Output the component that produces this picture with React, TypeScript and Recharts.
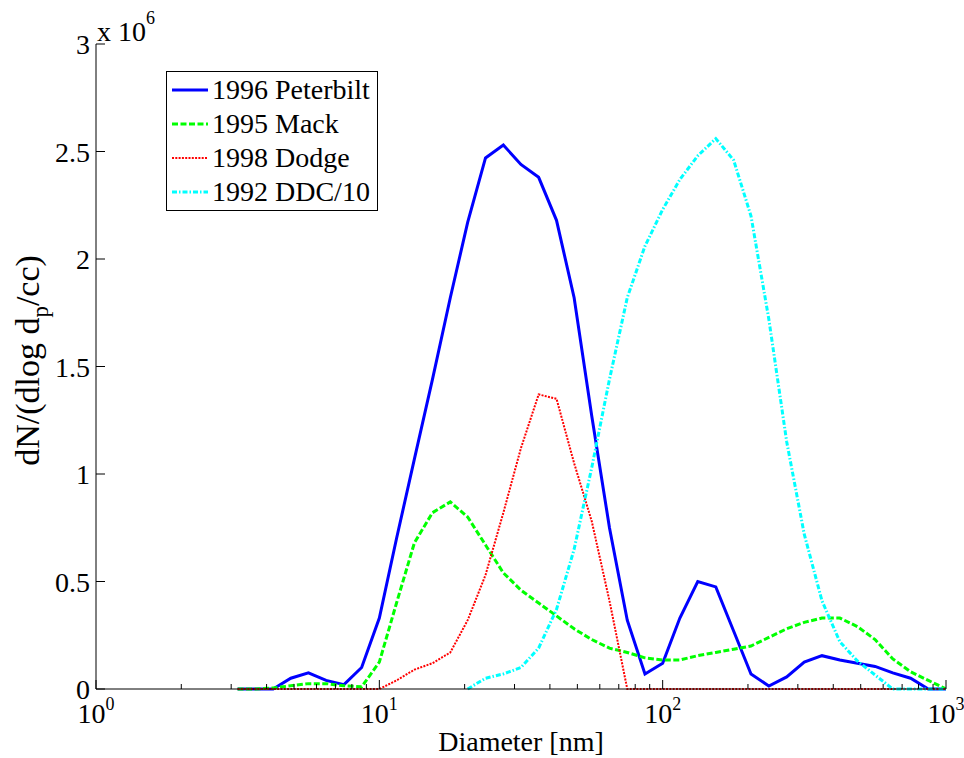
import React from 'react'
import { LineChart, Line, XAxis, YAxis, Legend } from 'recharts'

// particle diameter bins [nm]
const diameters = [
  3.16, 3.65, 4.22, 4.87, 5.62, 6.49, 7.5, 8.66, 10.0, 11.5, 13.3, 15.4, 17.8, 20.5,
  23.7, 27.4, 31.6, 36.5, 42.2, 48.7, 56.2, 64.9, 75.0, 86.6, 100, 115, 133, 154,
  178, 205, 237, 274, 316, 365, 422, 487, 562, 649, 750, 866, 1000,
]

// dN/dlogDp in units of 1e6 per cc
const peterbilt = [
  0, 0, 0, 0.05, 0.075, 0.04, 0.02, 0.1, 0.33, 0.7, 1.07, 1.44, 1.82, 2.17, 2.47,
  2.53, 2.44, 2.38, 2.18, 1.82, 1.27, 0.75, 0.32, 0.07, 0.12, 0.33, 0.5, 0.475,
  0.27, 0.07, 0.014, 0.056, 0.125, 0.155, 0.135, 0.12, 0.105, 0.075, 0.05, 0, 0,
]
const mack = [
  0, 0, 0.005, 0.015, 0.025, 0.025, 0.015, 0.01, 0.125, 0.4, 0.68, 0.82, 0.87, 0.8,
  0.67, 0.54, 0.46, 0.4, 0.34, 0.28, 0.23, 0.19, 0.17, 0.145, 0.135, 0.135, 0.155,
  0.17, 0.185, 0.2, 0.24, 0.28, 0.31, 0.33, 0.33, 0.29, 0.23, 0.14, 0.08, 0.04, 0,
]
const dodge = [
  0, 0, 0, 0, 0, 0, 0, 0, 0, 0.04, 0.09, 0.12, 0.17, 0.32, 0.53, 0.82, 1.12, 1.37,
  1.35, 1.05, 0.78, 0.41, 0, 0, 0, 0, 0, 0, 0, 0, 0, 0, 0, 0, 0, 0, 0, 0, 0, 0, 0,
]
const ddc = [
  null, null, null, null, null, null, null, null, null, null, null, null, null, 0,
  0.05, 0.07, 0.1, 0.19, 0.37, 0.65, 1.03, 1.44, 1.82, 2.06, 2.23, 2.37, 2.48, 2.56,
  2.46, 2.2, 1.72, 1.15, 0.72, 0.41, 0.22, 0.13, 0.065, 0, 0, 0, 0,
]

const xTicks = [
  1, 2, 3, 4, 5, 6, 7, 8, 9, 10, 20, 30, 40, 50, 60, 70, 80, 90, 100, 200, 300, 400,
  500, 600, 700, 800, 900, 1000,
]
const yTicks = [0, 0.5, 1, 1.5, 2, 2.5, 3]

const series = [
  { key: 'peterbilt', name: '1996 Peterbilt', color: '#0000ff', width: 3, dash: undefined },
  { key: 'mack', name: '1995 Mack', color: '#00ff00', width: 3, dash: '6 2.5' },
  { key: 'dodge', name: '1998 Dodge', color: '#ff0000', width: 2, dash: '2 1.3' },
  { key: 'ddc', name: '1992 DDC/10', color: '#00ffff', width: 3, dash: '5 2 1.5 2' },
]

const data = diameters.map((d, i) => ({
  d,
  peterbilt: peterbilt[i],
  mack: mack[i],
  dodge: dodge[i],
  ddc: ddc[i],
}))

const FONT = "'Liberation Serif', 'Times New Roman', serif"
const FS = 28

const XTick = ({ x, y, payload }: any) => {
  const v = payload.value
  const lg = Math.log10(v)
  const exp = Math.round(lg)
  const major = Math.abs(lg - exp) < 1e-6
  return (
    <g>
      <line x1={x} y1={y} x2={x} y2={y - (major ? 9 : 5)} stroke="#000" />
      {major && (
        <text x={x} y={y + 34} textAnchor="middle" fontSize={FS} fontFamily={FONT} fill="#000">
          10
          <tspan dy={-13} fontSize={18}>{exp}</tspan>
        </text>
      )}
    </g>
  )
}

const YTick = ({ x, y, payload }: any) => (
  <g>
    <line x1={x} y1={y} x2={x + 9} y2={y} stroke="#000" />
    <text x={x - 6} y={y} dy={10} textAnchor="end" fontSize={FS} fontFamily={FONT} fill="#000">
      {payload.value}
    </text>
  </g>
)

const YLabel = (props: any) => {
  const vb = props.viewBox || { x: 0, y: 44, width: 96, height: 645 }
  const cy = vb.y + vb.height / 2 - 6
  return (
    <g fontFamily={FONT} fill="#000">
      <text transform={`translate(39, ${cy}) rotate(-90)`} textAnchor="middle" fontSize={34}>
        dN/(dlog d
        <tspan dy={9} fontSize={23}>p</tspan>
        <tspan dy={-9}>/cc)</tspan>
      </text>
      <text x={vb.x + vb.width + 1} y={vb.y - 3} fontSize={FS}>
        x 10
        <tspan dy={-17} fontSize={18}>6</tspan>
      </text>
    </g>
  )
}

const renderLegend = () => (
  <div
    style={{
      width: 212,
      boxSizing: 'border-box',
      border: '1px solid #000',
      background: '#fff',
      padding: '1px 4px 1px 5px',
      fontFamily: FONT,
      fontSize: FS,
      color: '#000',
    }}
  >
    {series.map((s) => (
      <div key={s.key} style={{ display: 'flex', alignItems: 'center', height: 34 }}>
        <svg width={36} height={10} style={{ marginRight: 4, flex: 'none' }}>
          <line x1={0} y1={5} x2={36} y2={5} stroke={s.color} strokeWidth={s.width} strokeDasharray={s.dash} />
        </svg>
        <span style={{ whiteSpace: 'nowrap', lineHeight: '34px' }}>{s.name}</span>
      </div>
    ))}
  </div>
)

export default function App() {
  return (
    <div style={{ position: 'absolute', left: 0, top: 0, background: '#fff' }}>
      <LineChart width={964} height={758} data={data} margin={{ top: 44, right: 18, left: 0, bottom: 0 }}>
        <XAxis
          dataKey="d"
          type="number"
          scale="log"
          domain={[1, 1000]}
          ticks={xTicks}
          interval={0}
          allowDataOverflow
          height={69}
          tickSize={0}
          tickMargin={0}
          tickLine={false}
          tick={<XTick />}
          axisLine={{ stroke: '#000' }}
          label={{
            value: 'Diameter [nm]',
            position: 'insideBottom',
            offset: 7,
            fontSize: FS,
            fontFamily: FONT,
            fill: '#000',
          }}
        />
        <YAxis
          type="number"
          domain={[0, 3]}
          ticks={yTicks}
          interval={0}
          width={96}
          tickSize={0}
          tickMargin={0}
          tickLine={false}
          tick={<YTick />}
          axisLine={{ stroke: '#000' }}
          label={<YLabel />}
        />
        <Legend
          layout="vertical"
          align="center"
          verticalAlign="middle"
          content={renderLegend}
          wrapperStyle={{ left: 166, top: 71, width: 212, height: 'auto' }}
        />
        {series.map((s) => (
          <Line
            key={s.key}
            dataKey={s.key}
            name={s.name}
            type="linear"
            stroke={s.color}
            strokeWidth={s.width}
            strokeDasharray={s.dash}
            dot={false}
            activeDot={false}
            isAnimationActive={false}
          />
        ))}
      </LineChart>
    </div>
  )
}
